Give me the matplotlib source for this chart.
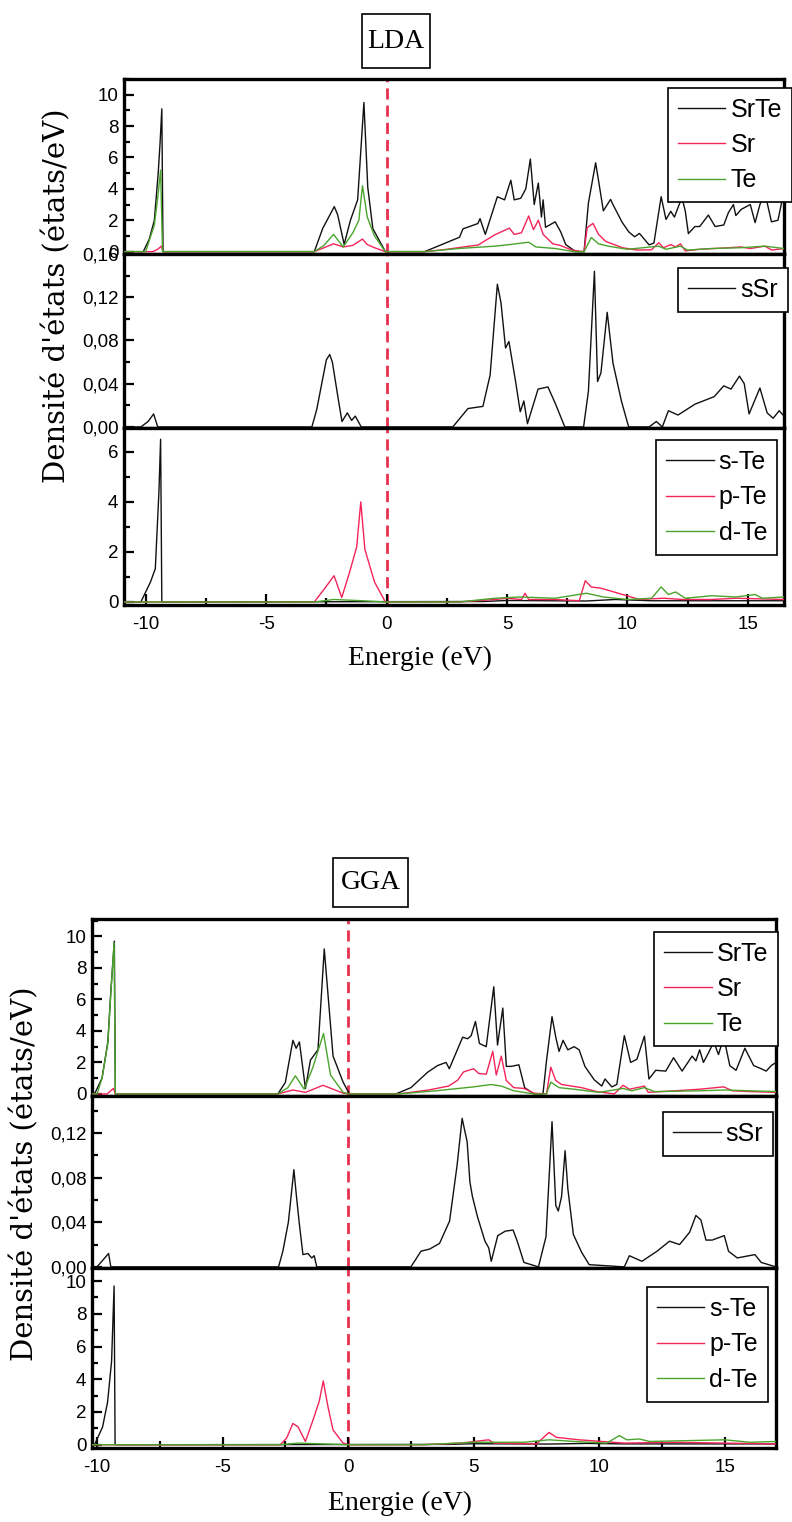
import matplotlib
matplotlib.use("Agg")
import matplotlib.pyplot as plt
from matplotlib.patches import Rectangle
from matplotlib.ticker import MultipleLocator, FuncFormatter

plt.rcParams['axes.unicode_minus'] = False

# Densities of states of SrTe (energy in eV, DOS in states/eV), LDA and GGA
lda_srte = [(-10.9, 0), (-10.1, 0), (-9.85, 0.8), (-9.64, 2.0), (-9.48, 5.0), (-9.40, 7.0), (-9.33, 9.1),
            (-9.28, 0), (-3.0, 0), (-2.65, 1.48), (-2.17, 2.87), (-2.03, 2.35), (-1.76, 0.46), (-1.5, 2.0),
            (-1.2, 3.3), (-0.94, 9.5), (-0.78, 4.1), (-0.57, 1.47), (-0.05, 0), (1.58, 0), (3.03, 0.92),
            (3.17, 1.45), (3.79, 1.79), (3.88, 2.1), (4.1, 1.1), (4.6, 3.5), (4.9, 3.3), (5.16, 4.55),
            (5.3, 3.3), (5.57, 3.4), (5.78, 4.0), (5.97, 5.9), (6.13, 3.0), (6.3, 4.37), (6.43, 2.2),
            (6.5, 3.3), (6.6, 1.55), (7.0, 1.9), (7.23, 1.26), (7.44, 0.45), (7.85, 0), (8.2, 0),
            (8.38, 3.1), (8.68, 5.66), (8.84, 4.15), (9.0, 2.6), (9.3, 3.33), (9.4, 3.0), (9.78, 1.87),
            (10.06, 1.25), (10.3, 0.95), (10.5, 1.16), (10.9, 0.43), (11.1, 0.55), (11.4, 3.5),
            (11.6, 2.05), (11.8, 2.57), (11.95, 2.2), (12.26, 3.45), (12.4, 2.6), (12.53, 1.15),
            (12.8, 1.6), (13.0, 1.6), (13.36, 2.33), (13.64, 1.6), (14.0, 1.7), (14.19, 2.48),
            (14.4, 3.0), (14.5, 2.3), (14.73, 2.7), (15.1, 3.0), (15.3, 1.85), (15.5, 3.0), (15.7, 3.8),
            (15.98, 1.9), (16.25, 2.0), (16.45, 3.5), (16.5, 2.9)]
lda_sr = [(-10.9, 0), (-9.7, 0), (-9.5, 0.15), (-9.35, 0.35), (-9.28, 0), (-3.0, 0), (-2.6, 0.25),
          (-2.2, 0.5), (-1.8, 0.3), (-1.4, 0.4), (-1.0, 0.8), (-0.8, 0.45), (-0.5, 0.25), (-0.05, 0),
          (1.6, 0), (2.5, 0.15), (3.2, 0.3), (3.8, 0.42), (4.5, 1.08), (5.1, 1.5), (5.3, 1.1), (5.6, 1.2),
          (5.9, 2.27), (6.1, 1.4), (6.3, 2.0), (6.5, 1.1), (6.9, 0.5), (7.2, 0.4), (7.7, 0.1), (8.2, 0),
          (8.33, 1.53), (8.57, 1.8), (8.8, 1.1), (9.1, 0.65), (9.8, 0.25), (10.4, 0.1), (11.0, 0.12),
          (11.3, 0.57), (11.5, 0.25), (11.8, 0.45), (12.0, 0.3), (12.2, 0.5), (12.4, 0.05), (13.0, 0.15),
          (13.6, 0.2), (14.2, 0.25), (14.7, 0.3), (15.1, 0.2), (15.7, 0.35), (16.0, 0.1), (16.5, 0.2)]
lda_te = [(-10.9, 0), (-10.0, 0), (-9.64, 1.7), (-9.48, 3.7), (-9.38, 5.2), (-9.3, 0), (-3.0, 0),
          (-2.6, 0.4), (-2.2, 1.1), (-1.8, 0.3), (-1.4, 1.2), (-1.15, 2.0), (-1.0, 4.2), (-0.8, 2.2),
          (-0.5, 1.0), (-0.05, 0), (1.6, 0), (3.0, 0.2), (4.5, 0.35), (5.1, 0.45), (5.9, 0.6), (6.2, 0.3),
          (7.0, 0.2), (7.8, 0), (8.2, 0), (8.5, 0.9), (8.8, 0.5), (9.2, 0.35), (10.0, 0.15), (11.3, 0.35),
          (11.6, 0.15), (12.2, 0.35), (12.5, 0.1), (13.5, 0.2), (14.7, 0.25), (15.7, 0.35), (16.5, 0.2)]
lda_ssr = [(-10.9, 0), (-10.2, 0), (-9.9, 0.005), (-9.67, 0.012), (-9.5, 0), (-3.1, 0), (-2.9, 0.016),
           (-2.5, 0.062), (-2.36, 0.067), (-2.25, 0.060), (-2.0, 0.025), (-1.85, 0.005), (-1.63, 0.013),
           (-1.45, 0.006), (-1.3, 0.01), (-1.05, 0), (2.75, 0), (3.38, 0.017), (4.0, 0.019), (4.3, 0.048),
           (4.6, 0.132), (4.75, 0.115), (4.94, 0.073), (5.08, 0.079), (5.35, 0.043), (5.55, 0.014),
           (5.7, 0.024), (5.85, 0.003), (6.29, 0.035), (6.7, 0.037), (7.0, 0.022), (7.4, 0), (8.18, 0),
           (8.38, 0.033), (8.63, 0.144), (8.76, 0.042), (8.9, 0.05), (9.16, 0.106), (9.4, 0.059),
           (9.75, 0.024), (10.05, 0), (10.9, 0), (11.2, 0.005), (11.45, 0), (11.7, 0.015), (12.1, 0.011),
           (12.8, 0.021), (13.6, 0.028), (14.0, 0.038), (14.3, 0.035), (14.65, 0.047), (14.85, 0.040),
           (15.05, 0.012), (15.5, 0.036), (15.8, 0.013), (16.05, 0.008), (16.3, 0.015), (16.5, 0.01)]
lda_s_te = [(-10.9, 0), (-10.2, 0), (-9.8, 0.8), (-9.6, 1.33), (-9.45, 4.4), (-9.38, 6.5), (-9.33, 0),
            (4.0, 0.02), (5.0, 0.06), (8.3, 0.04), (9.5, 0.1), (11.0, 0.05), (16.5, 0.05)]
lda_p_te = [(-10.9, 0), (-3.0, 0), (-2.6, 0.5), (-2.18, 1.05), (-1.86, 0.18), (-1.55, 1.14), (-1.24, 2.2),
            (-1.07, 4.0), (-0.9, 2.1), (-0.5, 0.8), (-0.05, 0), (3.0, 0), (4.5, 0.1), (5.0, 0.15),
            (5.6, 0.1), (5.75, 0.35), (5.9, 0.1), (7.0, 0.1), (8.0, 0.05), (8.25, 0.85), (8.5, 0.6),
            (8.9, 0.55), (9.8, 0.3), (10.5, 0.1), (11.5, 0.15), (12.3, 0.1), (13.5, 0.1), (14.5, 0.15),
            (16.5, 0.1)]
lda_d_te = [(-10.9, 0), (-3.0, 0), (-2.2, 0.1), (-1.0, 0.05), (0, 0), (3.0, 0), (4.5, 0.15), (5.5, 0.2),
            (7.0, 0.15), (8.3, 0.35), (9.0, 0.2), (10.0, 0.1), (11.0, 0.15), (11.4, 0.6), (11.7, 0.3),
            (12.0, 0.4), (12.4, 0.15), (13.5, 0.25), (14.5, 0.2), (15.3, 0.3), (15.6, 0.15), (16.5, 0.2)]

gga_srte = [(-10.2, 0), (-10.1, 0), (-9.8, 1.0), (-9.57, 3.3), (-9.45, 6.5), (-9.31, 9.7), (-9.27, 0),
            (-2.8, 0), (-2.5, 0.73), (-2.2, 3.4), (-2.07, 2.9), (-1.94, 3.3), (-1.7, 0.35), (-1.5, 2.15),
            (-1.2, 2.8), (-0.95, 9.2), (-0.6, 2.4), (-0.2, 0.75), (0.05, 0), (1.9, 0), (2.5, 0.4),
            (3.16, 1.37), (3.56, 1.8), (3.9, 2.0), (4.03, 1.6), (4.56, 3.6), (4.76, 3.5), (4.9, 3.7),
            (5.07, 4.6), (5.23, 3.2), (5.5, 3.0), (5.8, 6.8), (5.95, 3.1), (6.16, 5.45), (6.3, 1.75),
            (6.5, 1.75), (6.8, 1.85), (7.03, 0.4), (7.4, 0), (7.76, 0), (7.9, 2.1), (8.12, 4.9),
            (8.27, 3.6), (8.4, 2.7), (8.56, 3.4), (8.75, 2.8), (9.0, 3.0), (9.2, 2.8), (9.43, 1.75),
            (9.8, 0.9), (10.1, 0.5), (10.23, 0.95), (10.5, 0.45), (10.7, 0.6), (11.0, 3.7), (11.25, 2.0),
            (11.5, 2.2), (11.8, 3.67), (11.98, 0.95), (12.25, 1.5), (12.65, 1.45), (12.96, 2.3),
            (13.3, 1.45), (13.7, 2.4), (13.85, 2.1), (14.0, 2.8), (14.15, 2.0), (14.35, 2.6), (14.56, 3.3),
            (14.75, 2.5), (14.96, 3.6), (15.2, 1.8), (15.45, 1.5), (15.8, 2.9), (16.15, 1.8), (16.45, 1.6),
            (16.65, 1.45), (16.85, 1.8), (17.04, 2.0)]
gga_sr = [(-10.2, 0), (-9.6, 0), (-9.35, 0.35), (-9.27, 0), (-2.8, 0), (-2.2, 0.25), (-1.7, 0.1),
          (-1.0, 0.55), (-0.2, 0.05), (0.05, 0), (2.0, 0), (3.2, 0.25), (4.0, 0.5), (4.36, 0.87),
          (4.6, 1.4), (5.0, 1.6), (5.2, 1.3), (5.5, 1.25), (5.76, 2.7), (5.9, 1.2), (6.1, 2.4), (6.3, 0.85),
          (6.6, 0.4), (7.0, 0.35), (7.4, 0.05), (7.9, 0), (8.07, 1.7), (8.27, 0.85), (8.5, 0.6), (8.9, 0.5),
          (9.3, 0.4), (9.9, 0.15), (10.6, 0), (10.95, 0.55), (11.2, 0.3), (11.8, 0.5), (11.95, 0.1),
          (13.0, 0.2), (14.0, 0.3), (14.96, 0.45), (15.3, 0.2), (16.0, 0.15), (17.04, 0.1)]
gga_te = [(-10.2, 0), (-10.0, 0), (-9.8, 1.0), (-9.57, 3.2), (-9.45, 6.4), (-9.32, 9.6), (-9.27, 0),
          (-2.8, 0), (-2.4, 0.4), (-2.1, 1.15), (-1.75, 0.3), (-1.4, 1.7), (-0.98, 3.84), (-0.7, 1.2),
          (-0.2, 0.1), (0.05, 0), (2.0, 0), (3.5, 0.2), (5.0, 0.45), (5.7, 0.6), (6.1, 0.5), (6.6, 0.2),
          (7.4, 0), (7.9, 0), (8.07, 0.75), (8.4, 0.4), (9.0, 0.3), (10.0, 0.1), (10.95, 0.35),
          (11.3, 0.2), (11.8, 0.4), (12.2, 0.15), (14.0, 0.2), (15.0, 0.25), (17.04, 0.15)]
gga_ssr = [(-10.2, 0), (-10.0, 0), (-9.54, 0.012), (-9.45, 0), (-2.77, 0), (-2.6, 0.014), (-2.38, 0.040),
           (-2.16, 0.087), (-2.07, 0.066), (-1.95, 0.040), (-1.8, 0.011), (-1.6, 0.012), (-1.45, 0.008),
           (-1.35, 0.01), (-1.25, 0), (2.5, 0), (2.9, 0.014), (3.25, 0.016), (3.64, 0.021), (4.04, 0.041),
           (4.34, 0.091), (4.54, 0.133), (4.74, 0.112), (4.85, 0.076), (4.95, 0.063), (5.15, 0.045),
           (5.45, 0.023), (5.6, 0.017), (5.7, 0.005), (5.96, 0.028), (6.26, 0.032), (6.57, 0.033),
           (6.75, 0.022), (7.0, 0.004), (7.58, 0), (7.88, 0.027), (8.12, 0.130), (8.27, 0.055),
           (8.37, 0.05), (8.5, 0.063), (8.64, 0.104), (8.75, 0.07), (8.97, 0.029), (9.3, 0.013),
           (9.6, 0.002), (11.0, 0), (11.2, 0.01), (11.7, 0.005), (12.3, 0.014), (12.8, 0.023),
           (13.2, 0.02), (13.6, 0.031), (13.85, 0.046), (14.05, 0.042), (14.25, 0.024), (14.5, 0.024),
           (14.98, 0.028), (15.15, 0.014), (15.5, 0.008), (16.2, 0.011), (16.45, 0.004), (17.04, 0)]
gga_s_te = [(-10.2, 0), (-10.1, 0), (-9.78, 1.08), (-9.58, 2.6), (-9.42, 5.1), (-9.32, 9.7), (-9.28, 0),
            (4.0, 0.02), (5.0, 0.06), (8.0, 0.04), (9.5, 0.08), (11.0, 0.05), (17.04, 0.05)]
gga_p_te = [(-10.2, 0), (-2.7, 0), (-2.45, 0.4), (-2.2, 1.3), (-2.0, 1.1), (-1.7, 0.2), (-1.4, 1.5),
            (-1.15, 2.66), (-0.99, 3.9), (-0.8, 2.3), (-0.6, 0.9), (-0.2, 0.1), (0.05, 0), (3.0, 0),
            (4.5, 0.1), (5.6, 0.3), (5.8, 0.1), (7.5, 0.05), (8.0, 0.75), (8.3, 0.45), (8.6, 0.4),
            (9.2, 0.3), (10.1, 0.2), (11.0, 0.1), (13.0, 0.15), (15.0, 0.1), (17.04, 0.05)]
gga_d_te = [(-10.2, 0), (-2.7, 0), (-2.0, 0.1), (-1.0, 0.05), (0, 0), (3.0, 0), (5.0, 0.15), (7.0, 0.15),
            (8.0, 0.3), (9.0, 0.2), (10.3, 0.1), (10.8, 0.56), (11.1, 0.3), (11.6, 0.35), (12.0, 0.2),
            (13.5, 0.25), (15.0, 0.3), (16.0, 0.15), (17.04, 0.2)]

total_labels = ['SrTe', 'Sr', 'Te']
s_labels = ['sSr']
te_labels = ['s-Te', 'p-Te', 'd-Te']
x_ticks = [-10, -5, 0, 5, 10, 15]

BLACK = '#111111'
RED = '#f2245a'
GREEN = '#4aa42c'
FERMI = '#e8304f'

W, H = 792, 1522
fig = plt.figure(figsize=(W / 100, H / 100), dpi=100)
fig.patch.set_facecolor('white')


def rect(left, top, right, bottom):
    return [left / W, 1 - bottom / H, (right - left) / W, (bottom - top) / H]


def comma(v, pos):
    return f"{v:.2f}".replace('.', ',')


def style_axis(ax, xlim, ylim, major, minor, show_x, fmt=None):
    ax.set_xlim(*xlim)
    ax.set_ylim(*ylim)
    for s in ax.spines.values():
        s.set_linewidth(2.4)
    ax.yaxis.set_major_locator(MultipleLocator(major))
    ax.yaxis.set_minor_locator(MultipleLocator(minor))
    if fmt:
        ax.yaxis.set_major_formatter(FuncFormatter(fmt))
    ax.tick_params(axis='y', which='both', direction='in', left=True, right=False, width=1.6,
                   labelsize=13.5, pad=4)
    ax.tick_params(axis='y', which='major', length=7)
    ax.tick_params(axis='y', which='minor', length=4)
    if show_x:
        ax.set_xticks(x_ticks)
        ax.xaxis.set_minor_locator(MultipleLocator(2.5))
        ax.tick_params(axis='x', which='both', direction='in', top=False, width=1.6,
                       labelsize=13.5, pad=8)
        ax.tick_params(axis='x', which='major', length=8)
        ax.tick_params(axis='x', which='minor', length=5)
    else:
        ax.tick_params(axis='x', which='both', bottom=False, top=False, labelbottom=False)
    ax.axvline(0, color=FERMI, lw=2, ls=(0, (4, 2.2)), zorder=1)


def draw(ax, series, colors, labels, anchor):
    for pts, c, lab in zip(series, colors, labels):
        e, d = zip(*pts)
        ax.plot(e, d, color=c, lw=1.0, label=lab, zorder=3)
    leg = ax.legend(loc='upper right', bbox_to_anchor=anchor, borderaxespad=0, fancybox=False,
                    framealpha=1, edgecolor='black', handlelength=1.9, handletextpad=0.2,
                    labelspacing=0.45, borderpad=0.4, prop={'family': 'Liberation Sans', 'size': 18})
    leg.get_frame().set_linewidth(1.2)


def title_box(text, left, top, right, bottom):
    fig.patches.append(Rectangle((left / W, 1 - bottom / H), (right - left) / W, (bottom - top) / H,
                                 transform=fig.transFigure, fc='white', ec='black', lw=1.2))
    fig.text((left + right) / 2 / W, 1 - (top + bottom) / 2 / H, text, ha='center', va='center',
             family='Liberation Serif', size=20)


def block(left, right, rows, xlim, data, anchors, title, title_box_px, ylab_xy, xlab_xy):
    axes = [fig.add_axes(rect(left, t, right, b)) for t, b in rows]
    tot, ssr, te = data
    style_axis(axes[0], xlim, tot[0], 2, 1, False)
    draw(axes[0], tot[1], [BLACK, RED, GREEN], total_labels, anchors[0])
    style_axis(axes[1], xlim, ssr[0], 0.04, 0.02, False, comma)
    draw(axes[1], ssr[1], [BLACK], s_labels, anchors[1])
    style_axis(axes[2], xlim, te[0], 2, 1, True)
    draw(axes[2], te[1], [BLACK, RED, GREEN], te_labels, anchors[2])
    for ax in axes:
        for lab in ax.get_xticklabels() + ax.get_yticklabels():
            lab.set_family('Liberation Sans')
    title_box(title, *title_box_px)
    fig.text(ylab_xy[0] / W, 1 - ylab_xy[1] / H, "Densité d'états (états/eV)", rotation=90,
             ha='center', va='center', family='DejaVu Serif', size=21)
    fig.text(xlab_xy[0] / W, 1 - xlab_xy[1] / H, 'Energie (eV)', ha='center', va='center',
             family='Liberation Serif', size=20)
    return axes


block(124, 784, [(79, 254), (254, 428), (428, 605)], (-10.9, 16.5),
      [((-0.15, 11.0), [lda_srte, lda_sr, lda_te]),
       ((-0.001, 0.16), [lda_ssr]),
       ((-0.12, 6.95), [lda_s_te, lda_p_te, lda_d_te])],
      [(1.012, 0.95), (1.006, 0.92), (0.99, 0.932)],
      'LDA', (362, 14, 430, 68), (57, 296), (420, 658))

block(92, 776, [(919, 1096), (1096, 1268), (1268, 1448)], (-10.2, 17.04),
      [((-0.13, 11.1), [gga_srte, gga_sr, gga_te]),
       ((-0.001, 0.153), [gga_ssr]),
       ((-0.2, 10.8), [gga_s_te, gga_p_te, gga_d_te])],
      [(1.003, 0.927), (0.996, 0.907), (0.988, 0.894)],
      'GGA', (333, 858, 408, 907), (25, 1174), (400, 1503))

fig.savefig('out.png', dpi=100, facecolor='white')
